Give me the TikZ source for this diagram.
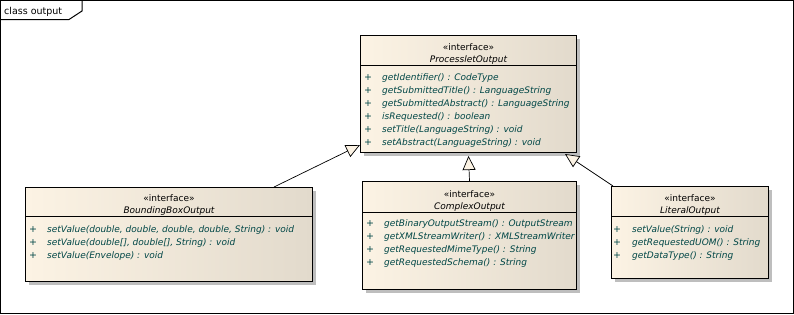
\documentclass[tikz,border=0pt]{standalone}
\usepackage{fontspec}
\setmainfont{DejaVu Sans}
\usepackage{xcolor}
\usetikzlibrary{arrows.meta, positioning, calc, shadows}
\definecolor{umlleft}{RGB}{252,243,228}
\definecolor{umlright}{RGB}{226,218,204}
\definecolor{umlshadow}{RGB}{190,190,190}
\definecolor{membertext}{RGB}{0,70,70}

\begin{document}
\begin{tikzpicture}[
    x=1pt, y=-1pt,
    classbox/.style={rectangle, draw=black, line width=1pt, left color=umlleft, right color=umlright, anchor=north west, inner sep=0pt, drop shadow={shadow xshift=3pt, shadow yshift=-3pt, fill=umlshadow, opacity=1}},
    stereo/.style={anchor=base, inner sep=0pt, font=\fontsize{9}{11}\selectfont},
    cname/.style={anchor=base, inner sep=0pt, font=\fontsize{9}{11}\selectfont\itshape},
    member/.style={anchor=base west, inner sep=0pt, font=\fontsize{9}{11}\selectfont\itshape, text=membertext},
    plus/.style={anchor=base, inner sep=0pt, font=\fontsize{9.5}{11}\selectfont, text=membertext},
    generalize/.style={-{Triangle[length=14pt, width=13pt, fill=umlleft]}, black, line width=0.7pt}
]
\useasboundingbox (0,0) rectangle (794,314);

% Frame
\draw[line width=1pt] (0.5,0.5) rectangle (793.5,313.5);
\draw[line width=1pt] (0.5,19.5) -- (69,19.5) -- (82,11) -- (82,0.5);
\node[anchor=base west, inner sep=0pt, font=\fontsize{9.5}{11}\selectfont] (frametitle) at (4,14) {class output};

% Classes
\node[classbox, minimum width=216pt, minimum height=117pt] (proc) at (360,35) {};
\node[classbox, minimum width=287pt, minimum height=94pt] (bbox) at (25,187) {};
\node[classbox, minimum width=214pt, minimum height=108pt] (cplx) at (362,181) {};
\node[classbox, minimum width=157pt, minimum height=92pt] (lit) at (611,186) {};

% Compartments
\draw[line width=1pt] ($(proc.north west)+(0,30)$) -- ($(proc.north east)+(0,30)$);
\draw[line width=1pt] ($(bbox.north west)+(0,29)$) -- ($(bbox.north east)+(0,29)$);
\draw[line width=1pt] ($(cplx.north west)+(0,31)$) -- ($(cplx.north east)+(0,31)$);
\draw[line width=1pt] ($(lit.north west)+(0,30)$) -- ($(lit.north east)+(0,30)$);

% Headers
\node[stereo] (procst) at ($(proc.north)+(0,15)$) {«interface»};
\node[cname] (procnm) at ($(proc.north)+(0,27)$) {ProcessletOutput};
\node[stereo] (bboxst) at ($(bbox.north)+(0,14)$) {«interface»};
\node[cname] (bboxnm) at ($(bbox.north)+(0,26)$) {BoundingBoxOutput};
\node[stereo] (cplxst) at ($(cplx.north)+(0,16)$) {«interface»};
\node[cname] (cplxnm) at ($(cplx.north)+(0,28)$) {ComplexOutput};
\node[stereo] (litst) at ($(lit.north)+(0,15)$) {«interface»};
\node[cname] (litnm) at ($(lit.north)+(0,27)$) {LiteralOutput};

% Operations
\foreach \m [count=\i from 0] in {getIdentifier() : CodeType, getSubmittedTitle() : LanguageString, getSubmittedAbstract() : LanguageString, isRequested() : boolean, setTitle(LanguageString) : void, setAbstract(LanguageString) : void} {
  \node[plus] at ($(proc.north west)+(8,45.5+13*\i)$) {+};
  \node[member] at ($(proc.north west)+(22,45.5+13*\i)$) {\m};
}
\foreach \m [count=\i from 0] in {{setValue(double, double, double, double, String) : void}, {setValue(double[], double[], String) : void}, setValue(Envelope) : void} {
  \node[plus] at ($(bbox.north west)+(8,45.5+13*\i)$) {+};
  \node[member] at ($(bbox.north west)+(22,45.5+13*\i)$) {\m};
}
\foreach \m [count=\i from 0] in {getBinaryOutputStream() : OutputStream, getXMLStreamWriter() : XMLStreamWriter, getRequestedMimeType() : String, getRequestedSchema() : String} {
  \node[plus] at ($(cplx.north west)+(8,45.5+13*\i)$) {+};
  \node[member] at ($(cplx.north west)+(22,45.5+13*\i)$) {\m};
}
\foreach \m [count=\i from 0] in {setValue(String) : void, getRequestedUOM() : String, getDataType() : String} {
  \node[plus] at ($(lit.north west)+(6,46.5+13*\i)$) {+};
  \node[member] at ($(lit.north west)+(21,46.5+13*\i)$) {\m};
}

% Generalizations
\draw[generalize] ($(bbox.north east)+(-39,0)$) -- ($(proc.south west)+(0,-8)$);
\draw[generalize] (cplx.north) -- ($(proc.south)+(0,3)$);
\draw[generalize] ($(lit.north west)+(2,0)$) -- ($(proc.south east)+(-12,1)$);

\end{tikzpicture}
\end{document}
